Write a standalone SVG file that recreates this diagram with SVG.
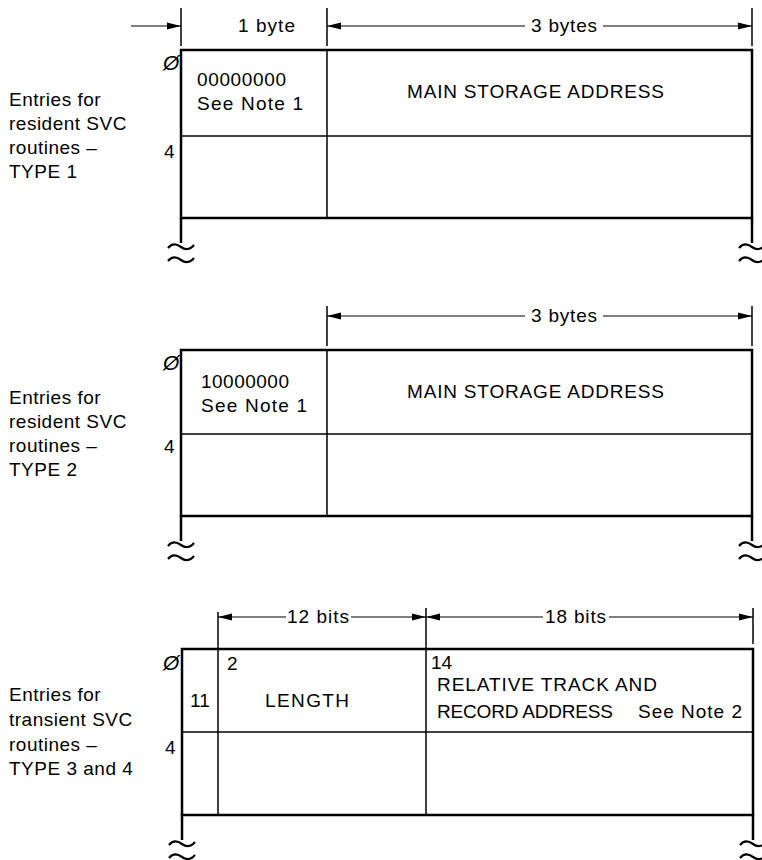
<svg xmlns="http://www.w3.org/2000/svg" width="762" height="860" viewBox="0 0 762 860">
<defs>
<marker id="ah" viewBox="0 0 14 8" refX="14" refY="4" markerWidth="14" markerHeight="8" markerUnits="userSpaceOnUse" orient="auto-start-reverse"><path d="M0,0.5 L14,4 L0,7.5 Z" fill="#000"/></marker>
<path id="tilde" d="M0,3 C4,-2 9,-1 13,2 C17,5 22,5 26,0" fill="none" stroke="#000" stroke-width="2.2"/>
</defs>
<style>
text{font-family:"Liberation Sans",Arial,sans-serif;font-size:19px;fill:#000}
.lbl{letter-spacing:0.5px}
.z{font-size:21px;font-style:italic}
.frame{fill:none;stroke:#000;stroke-width:2.5}
.div{stroke:#000;stroke-width:1.5;fill:none}
.tick{stroke:#000;stroke-width:1.5}
.dim{stroke:#000;stroke-width:1.2;fill:none}
</style>
<rect width="762" height="860" fill="#fff"/>

<g id="connectors">
<!-- block 1 dimensions -->
<line class="tick" x1="181" y1="8" x2="181" y2="46"/>
<line class="tick" x1="327" y1="8" x2="327" y2="46"/>
<line class="tick" x1="752" y1="8" x2="752" y2="46"/>
<line class="dim" x1="131" y1="26" x2="181" y2="26" marker-end="url(#ah)"/>
<line class="dim" x1="327" y1="26" x2="525" y2="26" marker-start="url(#ah)"/>
<line class="dim" x1="603" y1="26" x2="752" y2="26" marker-end="url(#ah)"/>
<!-- block 2 dimensions -->
<line class="tick" x1="327" y1="306" x2="327" y2="346"/>
<line class="tick" x1="752" y1="306" x2="752" y2="346"/>
<line class="dim" x1="327" y1="316" x2="525" y2="316" marker-start="url(#ah)"/>
<line class="dim" x1="603" y1="316" x2="752" y2="316" marker-end="url(#ah)"/>
<!-- block 3 dimensions -->
<line class="tick" x1="218" y1="612" x2="218" y2="649"/>
<line class="tick" x1="426" y1="608" x2="426" y2="649"/>
<line class="tick" x1="753" y1="608" x2="753" y2="644"/>
<line class="dim" x1="218" y1="617" x2="286" y2="617" marker-start="url(#ah)"/>
<line class="dim" x1="351" y1="617" x2="426" y2="617" marker-end="url(#ah)"/>
<line class="dim" x1="426" y1="617" x2="543" y2="617" marker-start="url(#ah)"/>
<line class="dim" x1="609" y1="617" x2="753" y2="617" marker-end="url(#ah)"/>
</g>

<g id="block1">
<rect class="frame" x="181" y="50" width="571" height="168"/>
<line class="div" x1="181" y1="136" x2="752" y2="136"/>
<line class="div" x1="327" y1="50" x2="327" y2="218"/>
<line class="frame" x1="181" y1="218" x2="181" y2="243"/>
<line class="frame" x1="752" y1="218" x2="752" y2="243"/>
<use href="#tilde" x="168" y="245"/>
<use href="#tilde" x="168" y="258"/>
<use href="#tilde" x="739" y="245"/>
<use href="#tilde" x="739" y="258"/>
<text x="238" y="32" textLength="57" lengthAdjust="spacing">1 byte</text>
<text x="531" y="32" textLength="66" lengthAdjust="spacing">3 bytes</text>
<text class="z" x="163" y="70">Ø</text>
<text x="164" y="158">4</text>
<text x="197" y="86" textLength="89" lengthAdjust="spacing">00000000</text>
<text x="197" y="110" textLength="106" lengthAdjust="spacing">See Note 1</text>
<text x="407" y="98" textLength="257" lengthAdjust="spacing">MAIN STORAGE ADDRESS</text>
<text class="lbl" x="9" y="106">Entries for</text>
<text class="lbl" x="9" y="130">resident SVC</text>
<text class="lbl" x="9" y="154">routines –</text>
<text class="lbl" x="9" y="178">TYPE 1</text>
</g>

<g id="block2">
<rect class="frame" x="181" y="350" width="571" height="166"/>
<line class="div" x1="181" y1="434" x2="752" y2="434"/>
<line class="div" x1="327" y1="350" x2="327" y2="516"/>
<line class="frame" x1="181" y1="516" x2="181" y2="541"/>
<line class="frame" x1="752" y1="516" x2="752" y2="541"/>
<use href="#tilde" x="168" y="543"/>
<use href="#tilde" x="168" y="556"/>
<use href="#tilde" x="739" y="543"/>
<use href="#tilde" x="739" y="556"/>
<text x="531" y="322" textLength="66" lengthAdjust="spacing">3 bytes</text>
<text class="z" x="163" y="370">Ø</text>
<text x="164" y="453">4</text>
<text x="201" y="388" textLength="88" lengthAdjust="spacing">10000000</text>
<text x="201" y="412" textLength="106" lengthAdjust="spacing">See Note 1</text>
<text x="407" y="398" textLength="257" lengthAdjust="spacing">MAIN STORAGE ADDRESS</text>
<text class="lbl" x="9" y="404">Entries for</text>
<text class="lbl" x="9" y="428">resident SVC</text>
<text class="lbl" x="9" y="452">routines –</text>
<text class="lbl" x="9" y="476">TYPE 2</text>
</g>

<g id="block3">
<rect class="frame" x="182" y="649" width="571" height="166"/>
<line class="div" x1="182" y1="732" x2="753" y2="732"/>
<line class="div" x1="218" y1="649" x2="218" y2="815"/>
<line class="div" x1="426" y1="649" x2="426" y2="815"/>
<line class="frame" x1="182" y1="815" x2="182" y2="840"/>
<line class="frame" x1="753" y1="815" x2="753" y2="840"/>
<use href="#tilde" x="169" y="842"/>
<use href="#tilde" x="169" y="855"/>
<use href="#tilde" x="740" y="842"/>
<use href="#tilde" x="740" y="855"/>
<text x="287" y="623" textLength="62" lengthAdjust="spacing">12 bits</text>
<text x="545" y="623" textLength="61" lengthAdjust="spacing">18 bits</text>
<text class="z" x="163" y="670">Ø</text>
<text x="165" y="754">4</text>
<text x="227" y="670">2</text>
<text x="431" y="669">14</text>
<text x="190" y="707" font-size="18">11</text>
<text x="265" y="707" textLength="84" lengthAdjust="spacing">LENGTH</text>
<text x="437" y="691" textLength="220" lengthAdjust="spacing">RELATIVE TRACK AND</text>
<text x="437" y="718" textLength="176" lengthAdjust="spacing">RECORD ADDRESS</text>
<text x="638" y="718" textLength="104" lengthAdjust="spacing">See Note 2</text>
<text class="lbl" x="9" y="701">Entries for</text>
<text class="lbl" x="9" y="726">transient SVC</text>
<text class="lbl" x="9" y="751">routines –</text>
<text class="lbl" x="9" y="775">TYPE 3 and 4</text>
</g>
</svg>
